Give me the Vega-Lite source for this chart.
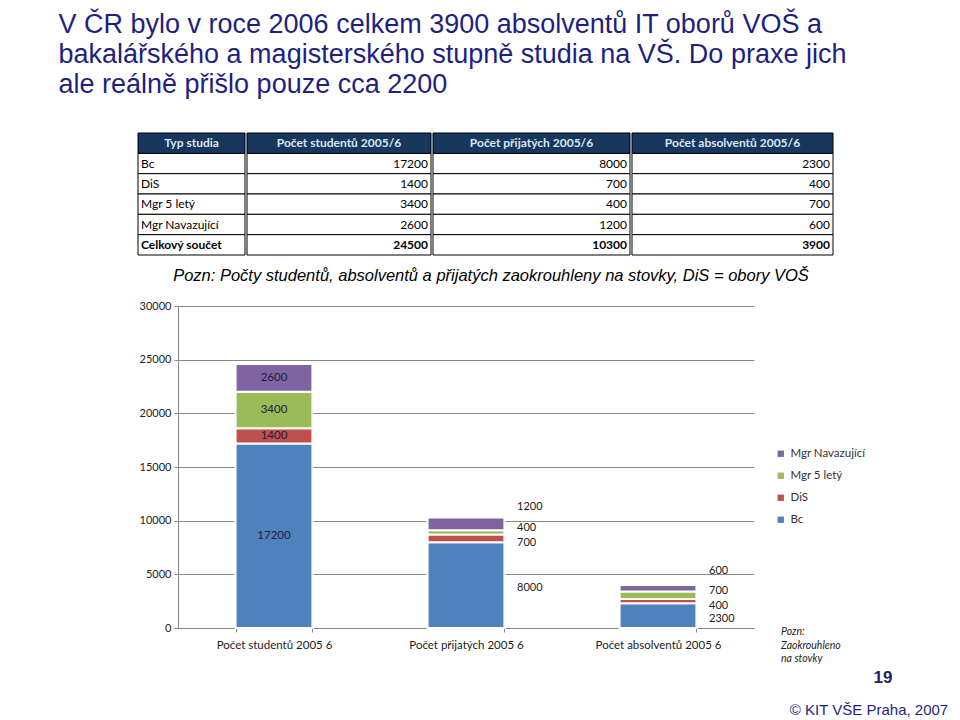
{
  "$schema": "https://vega.github.io/schema/vega-lite/v6.json",
  "background": "white",
  "padding": {"left": 58, "top": 11, "right": 5, "bottom": 5},
  "title": {
    "text": ["V ČR bylo v roce 2006 celkem 3900 absolventů IT oborů VOŠ a", "bakalářského a magisterského stupně studia na VŠ. Do praxe jich", "ale reálně přišlo pouze cca 2200"],
    "anchor": "start",
    "dx": -79,
    "font": "Liberation Sans",
    "fontSize": 27,
    "fontWeight": "normal",
    "color": "#1f1f7f",
    "lineHeight": 30,
    "offset": 33.5
  },
  "config": {"view": {"stroke": null}},
  "datasets": {
    "tabulka": [
      {"typ": "Bc", "studenti": 17200, "prijati": 8000, "absolventi": 2300},
      {"typ": "DiS", "studenti": 1400, "prijati": 700, "absolventi": 400},
      {"typ": "Mgr 5 letý", "studenti": 3400, "prijati": 400, "absolventi": 700},
      {"typ": "Mgr Navazující", "studenti": 2600, "prijati": 1200, "absolventi": 600},
      {"typ": "Celkový součet", "studenti": 24500, "prijati": 10300, "absolventi": 3900}
    ],
    "graf": [
      {"kategorie": "Počet studentů 2005 6", "typ": "Bc", "pocet": 17200},
      {"kategorie": "Počet studentů 2005 6", "typ": "DiS", "pocet": 1400},
      {"kategorie": "Počet studentů 2005 6", "typ": "Mgr 5 letý", "pocet": 3400},
      {"kategorie": "Počet studentů 2005 6", "typ": "Mgr Navazující", "pocet": 2600},
      {"kategorie": "Počet přijatých 2005 6", "typ": "Bc", "pocet": 8000},
      {"kategorie": "Počet přijatých 2005 6", "typ": "DiS", "pocet": 700},
      {"kategorie": "Počet přijatých 2005 6", "typ": "Mgr 5 letý", "pocet": 400},
      {"kategorie": "Počet přijatých 2005 6", "typ": "Mgr Navazující", "pocet": 1200},
      {"kategorie": "Počet absolventů 2005 6", "typ": "Bc", "pocet": 2300},
      {"kategorie": "Počet absolventů 2005 6", "typ": "DiS", "pocet": 400},
      {"kategorie": "Počet absolventů 2005 6", "typ": "Mgr 5 letý", "pocet": 700},
      {"kategorie": "Počet absolventů 2005 6", "typ": "Mgr Navazující", "pocet": 600}
    ]
  },
  "spacing": 11,
  "vconcat": [
    {
      "spacing": 0,
      "hconcat": [
        {
          "width": 107, "height": 122,
          "data": {"name": "tabulka"},
          "layer": [
            {"mark": {"type": "rect", "fill": "white", "stroke": "black", "strokeWidth": 1},
             "encoding": {"y": {"field": "typ", "type": "nominal", "scale": {"domain": ["Typ studia", "Bc", "DiS", "Mgr 5 letý", "Mgr Navazující", "Celkový součet"], "paddingInner": 0, "paddingOuter": 0}, "axis": null}}},
            {"data": {"values": [{}]},
             "mark": {"type": "rect", "fill": "#17375e", "stroke": "black", "strokeWidth": 1},
             "encoding": {"y": {"datum": "Typ studia", "type": "nominal"}}},
            {"data": {"values": [{}]},
             "mark": {"type": "text", "font": "Lato", "fontSize": 12, "fontWeight": "bold", "color": "#dce6f2"},
             "encoding": {"y": {"datum": "Typ studia", "type": "nominal"}, "text": {"value": "Typ studia"}}},
            {"transform": [{"filter": "datum.typ !== 'Celkový součet'"}],
             "mark": {"type": "text", "font": "Lato", "fontSize": 12, "color": "black", "align": "left", "x": 0, "dx": 3},
             "encoding": {"y": {"field": "typ", "type": "nominal"}, "text": {"field": "typ"}}},
            {"transform": [{"filter": "datum.typ === 'Celkový součet'"}],
             "mark": {"type": "text", "font": "Lato", "fontSize": 12, "fontWeight": "bold", "color": "black", "align": "left", "x": 0, "dx": 3},
             "encoding": {"y": {"field": "typ", "type": "nominal"}, "text": {"field": "typ"}}}
          ]
        },
        {
          "width": 184, "height": 122,
          "data": {"name": "tabulka"},
          "layer": [
            {"mark": {"type": "rect", "fill": "white", "stroke": "black", "strokeWidth": 1},
             "encoding": {"y": {"field": "typ", "type": "nominal", "scale": {"domain": ["Typ studia", "Bc", "DiS", "Mgr 5 letý", "Mgr Navazující", "Celkový součet"], "paddingInner": 0, "paddingOuter": 0}, "axis": null}}},
            {"data": {"values": [{}]},
             "mark": {"type": "rect", "fill": "#17375e", "stroke": "black", "strokeWidth": 1},
             "encoding": {"y": {"datum": "Typ studia", "type": "nominal"}}},
            {"data": {"values": [{}]},
             "mark": {"type": "text", "font": "Lato", "fontSize": 12, "fontWeight": "bold", "color": "#dce6f2"},
             "encoding": {"y": {"datum": "Typ studia", "type": "nominal"}, "text": {"value": "Počet studentů 2005/6"}}},
            {"transform": [{"filter": "datum.typ !== 'Celkový součet'"}],
             "mark": {"type": "text", "font": "Lato", "fontSize": 12, "color": "black", "align": "right", "x": "width", "dx": -3},
             "encoding": {"y": {"field": "typ", "type": "nominal"}, "text": {"field": "studenti", "type": "quantitative", "format": "d"}}},
            {"transform": [{"filter": "datum.typ === 'Celkový součet'"}],
             "mark": {"type": "text", "font": "Lato", "fontSize": 12, "fontWeight": "bold", "color": "black", "align": "right", "x": "width", "dx": -3},
             "encoding": {"y": {"field": "typ", "type": "nominal"}, "text": {"field": "studenti", "type": "quantitative", "format": "d"}}}
          ]
        },
        {
          "width": 197, "height": 122,
          "data": {"name": "tabulka"},
          "layer": [
            {"mark": {"type": "rect", "fill": "white", "stroke": "black", "strokeWidth": 1},
             "encoding": {"y": {"field": "typ", "type": "nominal", "scale": {"domain": ["Typ studia", "Bc", "DiS", "Mgr 5 letý", "Mgr Navazující", "Celkový součet"], "paddingInner": 0, "paddingOuter": 0}, "axis": null}}},
            {"data": {"values": [{}]},
             "mark": {"type": "rect", "fill": "#17375e", "stroke": "black", "strokeWidth": 1},
             "encoding": {"y": {"datum": "Typ studia", "type": "nominal"}}},
            {"data": {"values": [{}]},
             "mark": {"type": "text", "font": "Lato", "fontSize": 12, "fontWeight": "bold", "color": "#dce6f2"},
             "encoding": {"y": {"datum": "Typ studia", "type": "nominal"}, "text": {"value": "Počet přijatých 2005/6"}}},
            {"transform": [{"filter": "datum.typ !== 'Celkový součet'"}],
             "mark": {"type": "text", "font": "Lato", "fontSize": 12, "color": "black", "align": "right", "x": "width", "dx": -3},
             "encoding": {"y": {"field": "typ", "type": "nominal"}, "text": {"field": "prijati", "type": "quantitative", "format": "d"}}},
            {"transform": [{"filter": "datum.typ === 'Celkový součet'"}],
             "mark": {"type": "text", "font": "Lato", "fontSize": 12, "fontWeight": "bold", "color": "black", "align": "right", "x": "width", "dx": -3},
             "encoding": {"y": {"field": "typ", "type": "nominal"}, "text": {"field": "prijati", "type": "quantitative", "format": "d"}}}
          ]
        },
        {
          "width": 201, "height": 122,
          "data": {"name": "tabulka"},
          "layer": [
            {"mark": {"type": "rect", "fill": "white", "stroke": "black", "strokeWidth": 1},
             "encoding": {"y": {"field": "typ", "type": "nominal", "scale": {"domain": ["Typ studia", "Bc", "DiS", "Mgr 5 letý", "Mgr Navazující", "Celkový součet"], "paddingInner": 0, "paddingOuter": 0}, "axis": null}}},
            {"data": {"values": [{}]},
             "mark": {"type": "rect", "fill": "#17375e", "stroke": "black", "strokeWidth": 1},
             "encoding": {"y": {"datum": "Typ studia", "type": "nominal"}}},
            {"data": {"values": [{}]},
             "mark": {"type": "text", "font": "Lato", "fontSize": 12, "fontWeight": "bold", "color": "#dce6f2"},
             "encoding": {"y": {"datum": "Typ studia", "type": "nominal"}, "text": {"value": "Počet absolventů 2005/6"}}},
            {"transform": [{"filter": "datum.typ !== 'Celkový součet'"}],
             "mark": {"type": "text", "font": "Lato", "fontSize": 12, "color": "black", "align": "right", "x": "width", "dx": -3},
             "encoding": {"y": {"field": "typ", "type": "nominal"}, "text": {"field": "absolventi", "type": "quantitative", "format": "d"}}},
            {"transform": [{"filter": "datum.typ === 'Celkový součet'"}],
             "mark": {"type": "text", "font": "Lato", "fontSize": 12, "fontWeight": "bold", "color": "black", "align": "right", "x": "width", "dx": -3},
             "encoding": {"y": {"field": "typ", "type": "nominal"}, "text": {"field": "absolventi", "type": "quantitative", "format": "d"}}}
          ]
        }
      ]
    },
    {
      "spacing": 0,
      "hconcat": [
        {
          "width": 1, "height": 1,
          "data": {"values": []},
          "mark": {"type": "point", "opacity": 0}
        },
        {
          "width": 576,
          "height": 322,
          "title": {
            "text": "Pozn: Počty studentů, absolventů a přijatých zaokrouhleny na stovky, DiS = obory VOŠ",
            "anchor": "middle",
            "dx": 25,
            "font": "Liberation Sans",
            "fontSize": 16.5,
            "fontStyle": "italic",
            "fontWeight": "normal",
            "color": "black",
            "offset": 16
          },
          "data": {"name": "graf"},
          "layer": [
            {
              "mark": {"type": "bar", "stroke": "white", "strokeWidth": 2},
              "encoding": {
                "x": {"field": "kategorie", "type": "nominal",
                      "scale": {"domain": ["Počet studentů 2005 6", "Počet přijatých 2005 6", "Počet absolventů 2005 6"], "paddingInner": 0.6, "paddingOuter": 0.3},
                      "axis": {"title": null, "labelAngle": 0, "labelFont": "Lato", "labelFontSize": 11.5, "labelColor": "#222", "domainColor": "#888", "tickColor": "#888", "tickBand": "extent", "tickSize": 4, "labelPadding": 7}},
                "y": {"field": "pocet", "type": "quantitative", "stack": "zero",
                      "scale": {"domain": [0, 30000]},
                      "axis": {"title": null, "values": [0, 5000, 10000, 15000, 20000, 25000, 30000], "format": "d", "labelFont": "Lato", "labelFontSize": 11, "labelColor": "#222", "gridColor": "#888", "domainColor": "#888", "tickColor": "#888", "tickSize": 4, "labelPadding": 3}},
                "color": {"field": "typ", "type": "nominal",
                          "scale": {"domain": ["Mgr Navazující", "Mgr 5 letý", "DiS", "Bc"], "range": ["#8064a2", "#9bbb59", "#c0504d", "#4f81bd"]},
                          "legend": {"title": null, "orient": "none", "legendX": 637, "legendY": 315, "symbolType": "square", "symbolSize": 40, "symbolStrokeWidth": 0, "labelFont": "Lato", "labelFontSize": 11.5, "labelColor": "#333", "rowPadding": 9}},
                "order": {"field": "typ", "sort": "ascending"}
              }
            },
            {
              "mark": {"type": "text", "font": "Lato", "fontSize": 11.5, "color": "#1e1e3c"},
              "encoding": {
                "x": {"field": "kategorie", "type": "nominal"},
                "y": {"field": "pocet", "type": "quantitative", "stack": "zero", "bandPosition": 0.5},
                "detail": {"field": "typ"},
                "order": {"field": "typ", "sort": "ascending"},
                "text": {"field": "pocet", "type": "quantitative", "format": "d"},
                "opacity": {"condition": {"test": "datum.kategorie === 'Počet studentů 2005 6'", "value": 1}, "value": 0}
              }
            },
            {
              "mark": {"type": "text", "font": "Lato", "fontSize": 11, "color": "#222", "align": "left", "dx": 51, "dy": 3},
              "encoding": {
                "x": {"field": "kategorie", "type": "nominal"},
                "y": {"field": "pocet", "type": "quantitative", "stack": "zero", "bandPosition": 0.5},
                "detail": {"field": "typ"},
                "order": {"field": "typ", "sort": "ascending"},
                "text": {"field": "pocet", "type": "quantitative", "format": "d"},
                "opacity": {"condition": {"test": "datum.kategorie !== 'Počet studentů 2005 6' && datum.typ === 'Bc'", "value": 1}, "value": 0}
              }
            },
            {
              "mark": {"type": "text", "font": "Lato", "fontSize": 11, "color": "#222", "align": "left", "dx": 51, "dy": 5},
              "encoding": {
                "x": {"field": "kategorie", "type": "nominal"},
                "y": {"field": "pocet", "type": "quantitative", "stack": "zero", "bandPosition": 0.5},
                "detail": {"field": "typ"},
                "order": {"field": "typ", "sort": "ascending"},
                "text": {"field": "pocet", "type": "quantitative", "format": "d"},
                "opacity": {"condition": {"test": "datum.kategorie !== 'Počet studentů 2005 6' && datum.typ === 'DiS'", "value": 1}, "value": 0}
              }
            },
            {
              "mark": {"type": "text", "font": "Lato", "fontSize": 11, "color": "#222", "align": "left", "dx": 51, "dy": -4},
              "encoding": {
                "x": {"field": "kategorie", "type": "nominal"},
                "y": {"field": "pocet", "type": "quantitative", "stack": "zero", "bandPosition": 0.5},
                "detail": {"field": "typ"},
                "order": {"field": "typ", "sort": "ascending"},
                "text": {"field": "pocet", "type": "quantitative", "format": "d"},
                "opacity": {"condition": {"test": "datum.kategorie !== 'Počet studentů 2005 6' && datum.typ === 'Mgr 5 letý'", "value": 1}, "value": 0}
              }
            },
            {
              "mark": {"type": "text", "font": "Lato", "fontSize": 11, "color": "#222", "align": "left", "dx": 51, "dy": -17},
              "encoding": {
                "x": {"field": "kategorie", "type": "nominal"},
                "y": {"field": "pocet", "type": "quantitative", "stack": "zero", "bandPosition": 0.5},
                "detail": {"field": "typ"},
                "order": {"field": "typ", "sort": "ascending"},
                "text": {"field": "pocet", "type": "quantitative", "format": "d"},
                "opacity": {"condition": {"test": "datum.kategorie !== 'Počet studentů 2005 6' && datum.typ === 'Mgr Navazující'", "value": 1}, "value": 0}
              }
            },
            {
              "data": {"values": [{"poznamka": "Pozn: Zaokrouhleno na stovky"}]},
              "mark": {"type": "text", "font": "Lato", "fontSize": 10.5, "fontStyle": "italic", "color": "#222", "align": "left", "baseline": "top", "dx": 123, "dy": -1, "lineHeight": 13.5},
              "encoding": {
                "x": {"datum": "Počet absolventů 2005 6", "type": "nominal"},
                "y": {"datum": 0, "type": "quantitative"},
                "text": {"value": ["Pozn:", "Zaokrouhleno", "na stovky"]}
              }
            },
            {
              "data": {"values": [{}]},
              "mark": {"type": "text", "font": "Liberation Sans", "fontSize": 17, "fontWeight": "bold", "color": "#1f1f5f", "align": "center", "baseline": "middle", "dx": 225, "dy": 50},
              "encoding": {
                "x": {"datum": "Počet absolventů 2005 6", "type": "nominal"},
                "y": {"datum": 0, "type": "quantitative"},
                "text": {"value": "19"}
              }
            },
            {
              "data": {"values": [{}]},
              "mark": {"type": "text", "font": "Liberation Sans", "fontSize": 15, "color": "#1f1f7f", "align": "center", "baseline": "middle", "dx": 211, "dy": 82},
              "encoding": {
                "x": {"datum": "Počet absolventů 2005 6", "type": "nominal"},
                "y": {"datum": 0, "type": "quantitative"},
                "text": {"value": "© KIT VŠE Praha, 2007"}
              }
            }
          ]
        }
      ]
    }
  ]
}
